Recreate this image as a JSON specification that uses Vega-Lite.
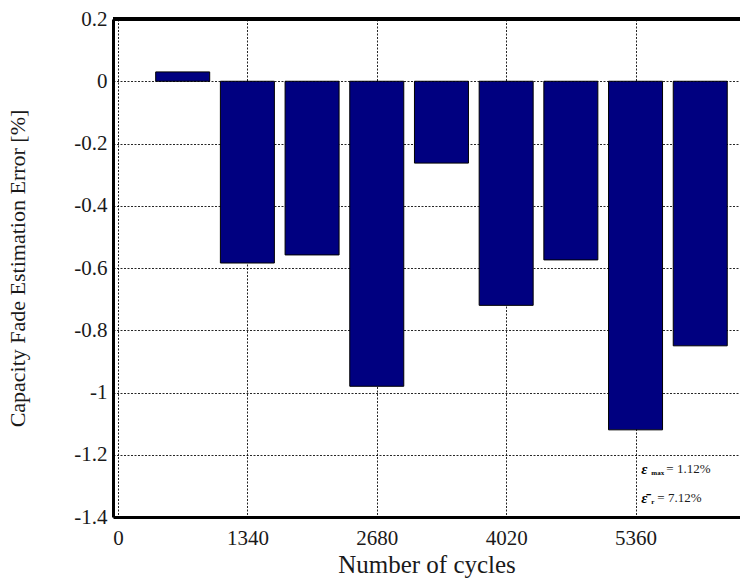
{
  "$schema": "https://vega.github.io/schema/vega-lite/v6.json",
  "autosize": "none",
  "width": 627,
  "height": 498,
  "padding": {"left": 113, "top": 19, "right": 0, "bottom": 71},
  "background": "white",
  "config": {
    "view": {"stroke": null},
    "font": "Liberation Serif",
    "style": {
      "guide-label": {"font": "Liberation Serif", "fontSize": 21, "fill": "#1a1a1a"},
      "guide-title": {"font": "Liberation Serif", "fill": "#1a1a1a", "fontWeight": "normal"}
    },
    "axis": {
      "labelFont": "Liberation Serif",
      "titleFont": "Liberation Serif",
      "labelColor": "#1a1a1a",
      "titleColor": "#1a1a1a",
      "titleFontWeight": "normal",
      "grid": true,
      "gridColor": "black",
      "gridDash": [2, 1.5],
      "gridWidth": 1,
      "gridOpacity": 0.85,
      "domainColor": "black",
      "domainWidth": 3,
      "tickSize": 0
    }
  },
  "datasets": {
    "bars": [
      {"cycles": 670, "error": 0.03},
      {"cycles": 1340, "error": -0.584},
      {"cycles": 2010, "error": -0.558},
      {"cycles": 2680, "error": -0.98},
      {"cycles": 3350, "error": -0.263},
      {"cycles": 4020, "error": -0.72},
      {"cycles": 4690, "error": -0.574},
      {"cycles": 5360, "error": -1.12},
      {"cycles": 6030, "error": -0.85}
    ],
    "notes": [
      {"cycles": 5420, "error": -1.245, "line": 1, "sym": "ε", "sub": "max", "val": "= 1.12%"},
      {"cycles": 5420, "error": -1.34, "line": 2, "sym": "ε̄", "sub": "r", "val": "= 7.12%"}
    ]
  },
  "layer": [
    {
      "data": {"name": "bars"},
      "mark": {"type": "bar", "size": 54, "color": "#000080", "stroke": "black", "strokeWidth": 1, "clip": true},
      "encoding": {
        "x": {
          "field": "cycles",
          "type": "quantitative",
          "scale": {"domain": [0, 6390], "nice": false},
          "axis": {
            "values": [0, 1340, 2680, 4020, 5360],
            "format": "d",
            "title": "Number of cycles",
            "titleFontSize": 25,
            "titlePadding": 4,
            "labelFont": "Liberation Serif",
            "labelFontSize": 21,
            "labelPadding": 10,
            "labelFlush": false
          }
        },
        "y": {
          "field": "error",
          "type": "quantitative",
          "scale": {"domain": [-1.4, 0.2], "nice": false, "zero": false},
          "axis": {
            "values": [0.2, 0, -0.2, -0.4, -0.6, -0.8, -1, -1.2, -1.4],
            "labelExpr": "replace(format(datum.value, '.1~f'), '\u2212', '-')",
            "title": "Capacity Fade Estimation Error [%]",
            "titleFontSize": 22,
            "titlePadding": 44,
            "labelFont": "Liberation Serif",
            "labelFontSize": 21,
            "labelPadding": 6
          }
        }
      }
    },
    {
      "data": {"name": "bars"},
      "mark": {"type": "rule", "color": "black", "strokeWidth": 3},
      "encoding": {"y": {"datum": 0.2}}
    },
    {
      "data": {"name": "notes"},
      "mark": {"type": "text", "align": "left", "baseline": "middle", "fontSize": 15, "fontWeight": "bold", "fontStyle": "italic", "color": "black", "font": "Liberation Serif"},
      "encoding": {
        "x": {"field": "cycles", "type": "quantitative"},
        "y": {"field": "error", "type": "quantitative"},
        "text": {"field": "sym"}
      }
    },
    {
      "data": {"name": "notes"},
      "mark": {"type": "text", "align": "left", "baseline": "middle", "fontSize": 7, "fontWeight": "bold", "color": "black", "font": "Liberation Serif", "dx": 10, "dy": 4},
      "encoding": {
        "x": {"field": "cycles", "type": "quantitative"},
        "y": {"field": "error", "type": "quantitative"},
        "text": {"field": "sub"}
      }
    },
    {
      "data": {"name": "notes"},
      "transform": [{"filter": "datum.line == 1"}],
      "mark": {"type": "text", "align": "left", "baseline": "middle", "fontSize": 13, "color": "#1a1a1a", "font": "Liberation Serif", "dx": 25},
      "encoding": {
        "x": {"field": "cycles", "type": "quantitative"},
        "y": {"field": "error", "type": "quantitative"},
        "text": {"field": "val"}
      }
    },
    {
      "data": {"name": "notes"},
      "transform": [{"filter": "datum.line == 2"}],
      "mark": {"type": "text", "align": "left", "baseline": "middle", "fontSize": 13, "color": "#1a1a1a", "font": "Liberation Serif", "dx": 16},
      "encoding": {
        "x": {"field": "cycles", "type": "quantitative"},
        "y": {"field": "error", "type": "quantitative"},
        "text": {"field": "val"}
      }
    }
  ]
}
